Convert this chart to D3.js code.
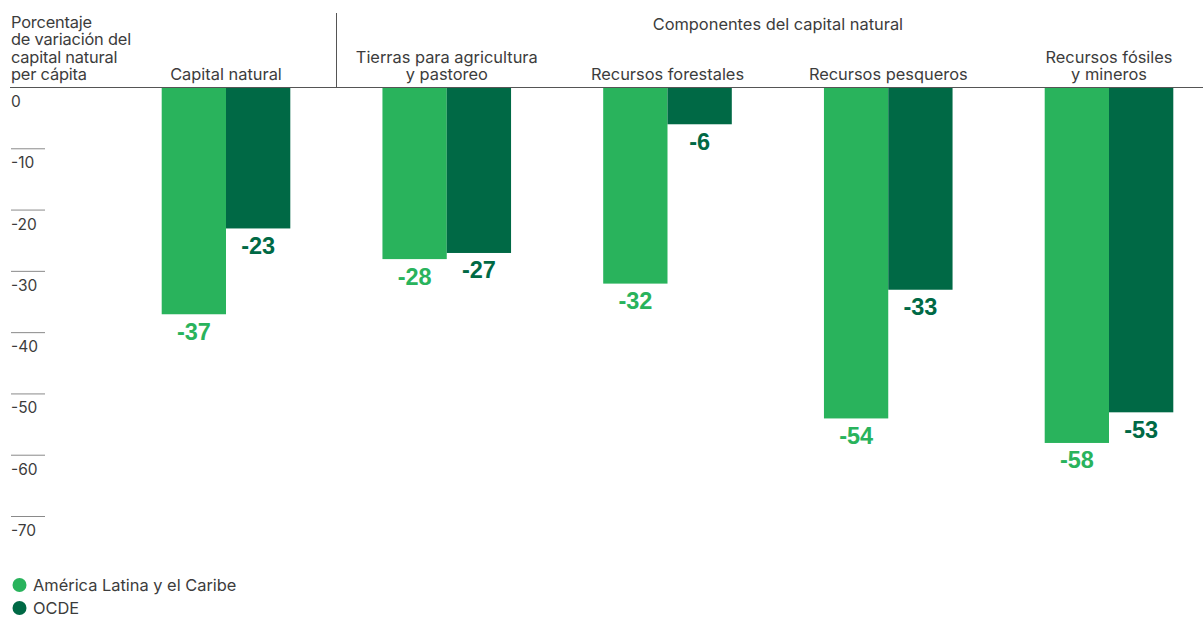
<!DOCTYPE html>
<html lang="es">
<head>
<meta charset="utf-8">
<script src="https://cdn.jsdelivr.net/npm/d3@7"></script>
<style>
  html, body { margin: 0; padding: 0; background: #fff; }
  svg { display: block; font-family: Inter, "Liberation Sans", Arial, sans-serif; }
</style>
</head>
<body>
<svg id="chart" width="1203" height="617"></svg>
<script>
// Categories (lines of each header label) and series values
const categories = ["Capital natural", "Tierras para agricultura", "Recursos forestales", "Recursos pesqueros", "Recursos fósiles"];
const categoryLines = [
  ["Capital natural"],
  ["Tierras para agricultura", "y pastoreo"],
  ["Recursos forestales"],
  ["Recursos pesqueros"],
  ["Recursos fósiles", "y mineros"]
];
const seriesNames = ["América Latina y el Caribe", "OCDE"];
const latamValues = [-37, -28, -32, -54, -58];
const ocdeValues = [-23, -27, -6, -33, -53];
const yTicks = [0, -10, -20, -30, -40, -50, -60, -70];
const yTitleLines = ["Porcentaje", "de variación del", "capital natural", "per cápita"];
const groupTitle = "Componentes del capital natural";

const colors = { "América Latina y el Caribe": "#29b35c", "OCDE": "#006945" };
const textColor = "#3c3c3c";
const fontSize = 16.4;

const svg = d3.select("#chart");

const y = d3.scaleLinear().domain([0, -70]).range([87.5, 516.5]);
const x0 = d3.scalePoint().domain(categories).range([226, 1109]);
const x1 = d3.scaleBand().domain(seriesNames).range([-64.3, 64.3]).padding(0);

// Axis title
svg.append("text")
  .attr("x", 11).attr("y", 28)
  .attr("fill", textColor).attr("font-size", fontSize)
  .attr("letter-spacing", -0.2)
  .selectAll("tspan").data(yTitleLines).join("tspan")
  .attr("x", 11).attr("dy", (d, i) => i === 0 ? 0 : 17.3)
  .text(d => d);

// Group title over the components
svg.append("text")
  .attr("x", (x0(categories[1]) + x0(categories[4])) / 2)
  .attr("y", 30)
  .attr("text-anchor", "middle")
  .attr("fill", textColor).attr("font-size", fontSize)
  .text(groupTitle);

// Separator between total and components
svg.append("line")
  .attr("x1", 336.5).attr("x2", 336.5)
  .attr("y1", 13).attr("y2", y(0))
  .attr("stroke", "#555").attr("stroke-width", 1);

// Category headers
categories.forEach((c, i) => {
  const lines = categoryLines[i];
  const t = svg.append("text")
    .attr("text-anchor", "middle")
    .attr("fill", textColor).attr("font-size", fontSize);
  lines.forEach((ln, j) => {
    t.append("tspan")
      .attr("x", x0(c))
      .attr("y", 80 - (lines.length - 1 - j) * 17)
      .text(ln);
  });
});

// Y axis: short tick rules with labels below them
const yAxis = svg.append("g");
yAxis.selectAll("line.tick").data(yTicks.filter(d => d !== 0)).join("line")
  .attr("class", "tick")
  .attr("x1", 11).attr("x2", 45)
  .attr("y1", d => y(d)).attr("y2", d => y(d))
  .attr("stroke", "#8a8a8a").attr("stroke-width", 1);
yAxis.selectAll("text").data(yTicks).join("text")
  .attr("x", 11).attr("y", d => y(d) + 19.5)
  .attr("fill", textColor).attr("font-size", 15.5)
  .text(d => d);

// Bars
const rows = categories.map((c, i) => ({ cat: c, vals: [
  { s: seriesNames[0], v: latamValues[i] },
  { s: seriesNames[1], v: ocdeValues[i] }
]}));

const groups = svg.append("g").selectAll("g").data(rows).join("g")
  .attr("transform", d => `translate(${x0(d.cat)},0)`);

groups.selectAll("rect").data(d => d.vals).join("rect")
  .attr("x", d => x1(d.s))
  .attr("width", x1.bandwidth())
  .attr("y", y(0))
  .attr("height", d => y(d.v) - y(0))
  .attr("fill", d => colors[d.s]);

groups.selectAll("text").data(d => d.vals).join("text")
  .attr("x", d => x1(d.s) + x1.bandwidth() / 2)
  .attr("y", d => y(d.v) + 25.5)
  .attr("text-anchor", "middle")
  .attr("font-family", "'Liberation Sans', Arial, sans-serif")
  .attr("font-weight", "bold")
  .attr("font-size", 23.5)
  .attr("fill", d => colors[d.s])
  .text(d => d.v);

// Zero baseline
svg.append("line")
  .attr("x1", 10).attr("x2", 1203)
  .attr("y1", y(0)).attr("y2", y(0))
  .attr("stroke", "#555").attr("stroke-width", 1.2);

// Legend
const legend = svg.append("g").selectAll("g").data(seriesNames).join("g")
  .attr("transform", (d, i) => `translate(0,${585 + i * 23})`);
legend.append("circle")
  .attr("cx", 19.5).attr("cy", 0).attr("r", 7)
  .attr("fill", d => colors[d]);
legend.append("text")
  .attr("x", 33).attr("y", 6)
  .attr("fill", textColor).attr("font-size", fontSize)
  .text(d => d);
</script>
</body>
</html>
